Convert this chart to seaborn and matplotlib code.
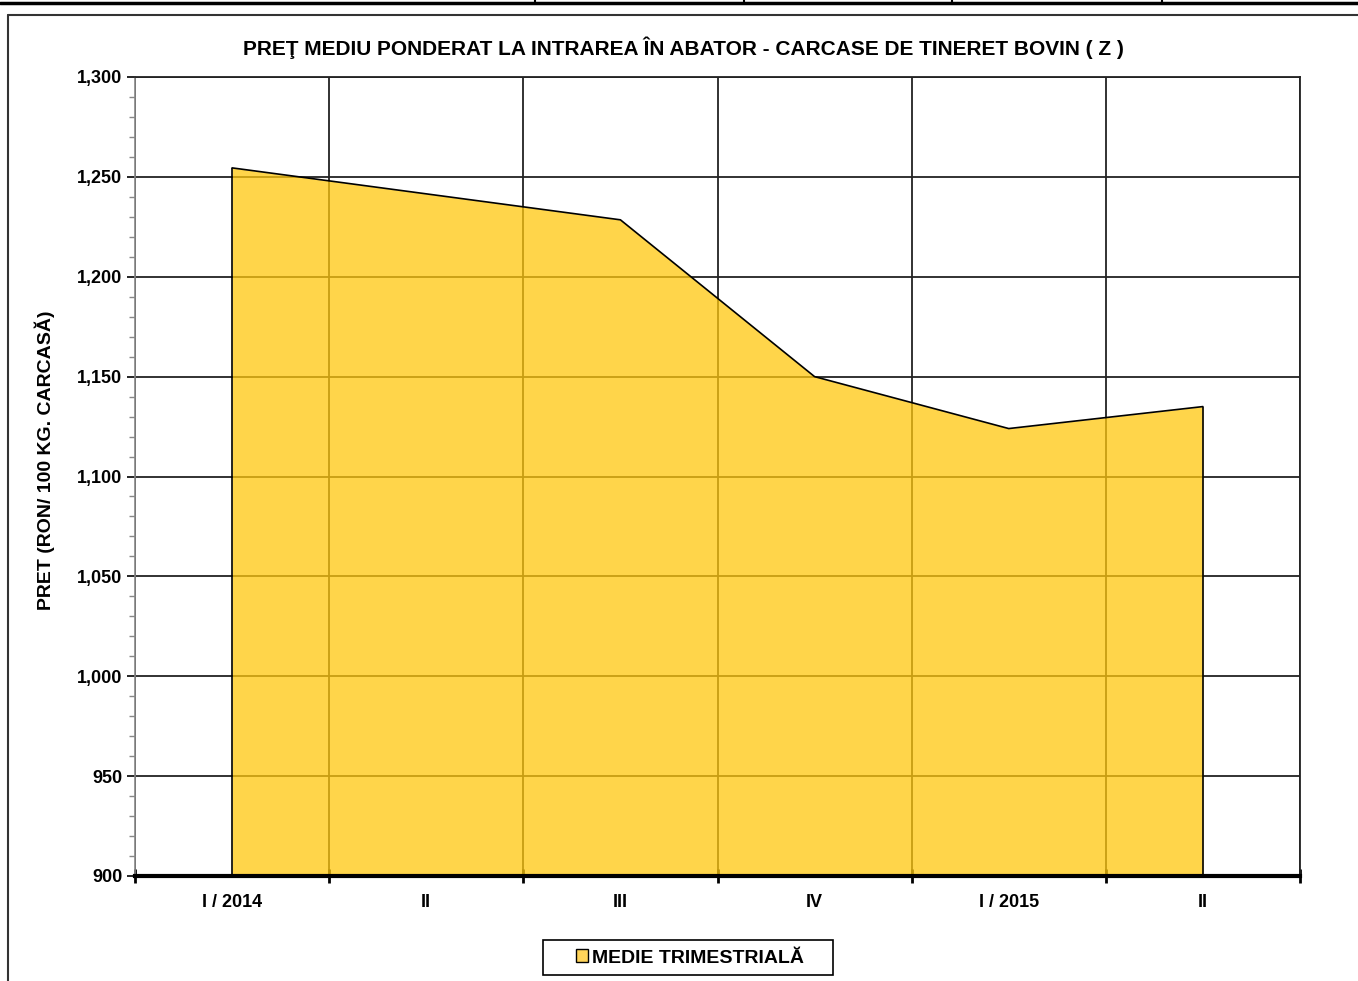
import seaborn as sns
import matplotlib.pyplot as plt
from matplotlib.lines import Line2D
from matplotlib.patches import Patch, Rectangle
from matplotlib.ticker import FuncFormatter, MultipleLocator, FixedLocator

# data
quarters = ["I / 2014", "II", "III", "IV", "I / 2015", "II"]
prices = [1254.5, 1241.5, 1228.5, 1150.0, 1124.0, 1135.0]

title = "PREŢ MEDIU PONDERAT LA INTRAREA ÎN ABATOR - CARCASE DE TINERET BOVIN ( Z )"
ylabel = "PRET (RON/ 100 KG. CARCASĂ)"
series_name = "MEDIE TRIMESTRIALĂ"

sns.set_style("white")
plt.rcParams['font.family'] = ['Liberation Sans', 'DejaVu Sans']
plt.rcParams['font.weight'] = 'bold'
for key in ["text.color", "axes.labelcolor", "xtick.labelcolor", "ytick.labelcolor"]:
    plt.rcParams[key] = "black"

fig = plt.figure(figsize=(13.58, 9.81), dpi=100)
ax = fig.add_axes([135 / 1358, 1 - 876 / 981, 1165 / 1358, 799 / 981])

pos = list(range(len(quarters)))

# area fill (translucent so the grid shows through) + outline
ax.fill_between(pos, 900, prices, color="#FFC70D", alpha=0.75, linewidth=0, zorder=3)
sns.lineplot(x=pos, y=prices, color="black", linewidth=1.2, ax=ax, zorder=4)
ax.vlines([pos[0], pos[-1]], 900, [prices[0], prices[-1]], color="black", linewidth=1.2, zorder=4)

ax.set_xlim(-0.5, len(quarters) - 0.5)
ax.set_ylim(900, 1300)

# y axis
ax.yaxis.set_major_locator(MultipleLocator(50))
ax.yaxis.set_minor_locator(MultipleLocator(10))
ax.yaxis.set_major_formatter(FuncFormatter(lambda v, p: f"{int(v):,}"))
ax.tick_params(axis="y", which="major", direction="out", length=6, width=1.2, color="black",
               labelsize=13, pad=3, left=True)
ax.tick_params(axis="y", which="minor", direction="out", length=4, width=1, color="#888888", left=True)

# x axis: ticks between categories, labels at centres
ax.xaxis.set_major_locator(FixedLocator([p - 0.5 for p in pos] + [pos[-1] + 0.5]))
ax.xaxis.set_major_formatter(FuncFormatter(lambda v, p: ""))
ax.xaxis.set_minor_locator(FixedLocator(pos))
ax.set_xticklabels(quarters, minor=True)
ax.tick_params(axis="x", which="major", direction="inout", length=10, width=2, color="black", bottom=True)
ax.tick_params(axis="x", which="minor", length=0, labelsize=13, pad=13)

ax.grid(True, which="major", color="#222222", linewidth=1.3, zorder=1)
ax.set_axisbelow(True)

for side in ["top", "right"]:
    ax.spines[side].set_visible(True)
    ax.spines[side].set_color("#222222")
    ax.spines[side].set_linewidth(1.3)
ax.spines["left"].set_color("#888888")
ax.spines["left"].set_linewidth(1.2)
ax.spines["bottom"].set_color("black")
ax.spines["bottom"].set_linewidth(3)
ax.spines["bottom"].set_zorder(5)

ax.set_xlabel("")
ax.set_ylabel(ylabel, fontsize=14, fontweight="bold")
ax.yaxis.set_label_coords(-80 / 1165, (876 - 460) / 799)

fig.text(683 / 1358, 1 - 48 / 981, title, ha="center", va="center", fontsize=15, fontweight="bold")

# legend, with its box drawn separately to get the wider padding
handle = Patch(facecolor="#FFD45A", edgecolor="black", linewidth=1)
leg = fig.legend([handle], [series_name], loc="center", bbox_to_anchor=(690 / 1358, 1 - 958 / 981),
                 frameon=False, fontsize=14, handlelength=0.6, handleheight=0.6,
                 handletextpad=0.2, borderpad=0.4, borderaxespad=0)
for t in leg.get_texts():
    t.set_fontweight("bold")
fig.add_artist(Rectangle((543 / 1358, 1 - 975 / 981), 290 / 1358, 35 / 981,
                         transform=fig.transFigure, fill=False, edgecolor="black", linewidth=1.2))

# chart frame and the table edge above it
fig.add_artist(Line2D([8 / 1358, 8 / 1358], [0, 1 - 15 / 981], color="#333333", linewidth=1.5))
fig.add_artist(Line2D([8 / 1358, 1], [1 - 15 / 981, 1 - 15 / 981], color="#333333", linewidth=1.5))
fig.add_artist(Line2D([0, 1], [1 - 3 / 981, 1 - 3 / 981], color="black", linewidth=2.5))
for xv in [535, 744, 952, 1162]:
    fig.add_artist(Line2D([xv / 1358, xv / 1358], [1 - 3 / 981, 1], color="black", linewidth=1.5))

fig.savefig("out.png", dpi=100)
